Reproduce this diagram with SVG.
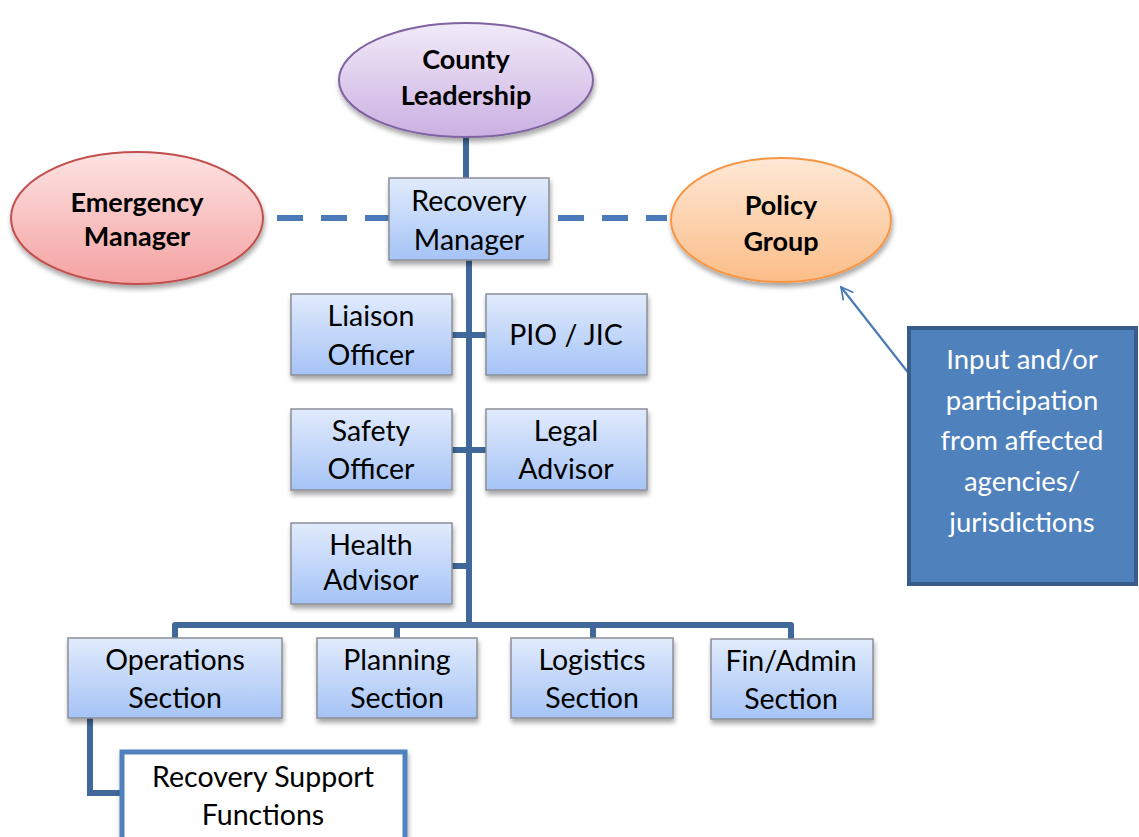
<svg xmlns="http://www.w3.org/2000/svg" width="1139" height="837" viewBox="0 0 1139 837">
<defs>
<linearGradient id="gBox" x1="0" y1="0" x2="0" y2="1"><stop offset="0" stop-color="#e1ebfc"/><stop offset="1" stop-color="#a5c3f6"/></linearGradient>
<linearGradient id="gPurple" x1="0" y1="0" x2="0" y2="1"><stop offset="0" stop-color="#f1eaf8"/><stop offset="1" stop-color="#cbb0e2"/></linearGradient>
<linearGradient id="gRed" x1="0" y1="0" x2="0" y2="1"><stop offset="0" stop-color="#fde3e3"/><stop offset="1" stop-color="#f5a2a2"/></linearGradient>
<linearGradient id="gOrange" x1="0" y1="0" x2="0" y2="1"><stop offset="0" stop-color="#fee8d6"/><stop offset="1" stop-color="#fbbd88"/></linearGradient>
<filter id="sh" x="-10%" y="-10%" width="125%" height="135%"><feGaussianBlur in="SourceAlpha" stdDeviation="2.5"/><feOffset dx="1" dy="4"/><feComponentTransfer><feFuncA type="linear" slope="0.35"/></feComponentTransfer><feMerge><feMergeNode/><feMergeNode in="SourceGraphic"/></feMerge></filter>
<marker id="arr" viewBox="0 0 20 20" refX="18" refY="10" markerWidth="16" markerHeight="16" markerUnits="userSpaceOnUse" orient="auto"><path d="M3,2 L18,10 L3,18" fill="none" stroke="#4a7ab8" stroke-width="2.2"/></marker>
<style>
.box{fill:url(#gBox);stroke:#8a8f96;stroke-width:1.5;filter:url(#sh)}
.t{font-family:Lato,"Open Sans",sans-serif;font-size:28.5px;fill:#000;text-anchor:middle}
.b{font-family:Lato,"Open Sans",sans-serif;font-weight:bold;font-size:27px;fill:#000;text-anchor:middle}
.w{font-family:Lato,"Open Sans",sans-serif;font-size:27.5px;fill:#fff;text-anchor:middle}
.ln{stroke:#41689b;stroke-width:6;fill:none}
.dl{stroke:#4a7ab8;stroke-width:6;fill:none;stroke-dasharray:26 18}
</style>
</defs>
<rect width="1139" height="837" fill="#fff"/>
<g id="connectors">
<line class="ln" x1="466" y1="137" x2="466" y2="178" stroke="#4a7ab8"/>
<line class="dl" x1="277" y1="218" x2="389" y2="218"/>
<line class="dl" x1="558" y1="218" x2="667" y2="218"/>
<line class="ln" x1="469" y1="260" x2="469" y2="627" stroke-width="7"/>
<line class="ln" x1="452" y1="335" x2="486" y2="335"/>
<line class="ln" x1="452" y1="450" x2="486" y2="450"/>
<line class="ln" x1="452" y1="566" x2="469" y2="566"/>
<path class="ln" d="M175,640 V625 H791 V640" stroke-linejoin="round"/>
<line class="ln" x1="397" y1="625" x2="397" y2="640"/>
<line class="ln" x1="593" y1="625" x2="593" y2="640"/>
<path class="ln" d="M90,718 V793 H122" stroke="#4a7ab8"/>
<line x1="910" y1="375" x2="841" y2="287" stroke="#4a7ab8" stroke-width="2.2" marker-end="url(#arr)"/>
</g>
<g id="county-leadership">
<ellipse cx="466" cy="80" rx="127" ry="57" fill="url(#gPurple)" stroke="#8064a2" stroke-width="2" filter="url(#sh)"/>
<text class="b" x="466" y="69">County</text>
<text class="b" x="466" y="105">Leadership</text>
</g>
<g id="emergency-manager">
<ellipse cx="137" cy="218" rx="126" ry="66" fill="url(#gRed)" stroke="#c0504d" stroke-width="2" filter="url(#sh)"/>
<text class="b" x="137" y="212">Emergency</text>
<text class="b" x="137" y="246" font-size="25">Manager</text>
</g>
<g id="policy-group">
<ellipse cx="781" cy="220" rx="110" ry="62" fill="url(#gOrange)" stroke="#f79646" stroke-width="2" filter="url(#sh)"/>
<text class="b" x="781" y="215">Policy</text>
<text class="b" x="781" y="251">Group</text>
</g>
<g id="recovery-manager">
<rect class="box" x="389" y="178" width="160" height="82"/>
<text class="t" x="469" y="211">Recovery</text>
<text class="t" x="469" y="250">Manager</text>
</g>
<g id="liaison-officer">
<rect class="box" x="291" y="294" width="161" height="81"/>
<text class="t" x="371" y="326">Liaison</text>
<text class="t" x="371" y="365">Officer</text>
</g>
<g id="pio-jic">
<rect class="box" x="486" y="294" width="161" height="81"/>
<text class="t" x="566" y="345">PIO / JIC</text>
</g>
<g id="safety-officer">
<rect class="box" x="291" y="409" width="161" height="81"/>
<text class="t" x="371" y="441">Safety</text>
<text class="t" x="371" y="479">Officer</text>
</g>
<g id="legal-advisor">
<rect class="box" x="486" y="409" width="161" height="81"/>
<text class="t" x="566" y="441">Legal</text>
<text class="t" x="566" y="479">Advisor</text>
</g>
<g id="health-advisor">
<rect class="box" x="291" y="523" width="161" height="81"/>
<text class="t" x="371" y="555">Health</text>
<text class="t" x="371" y="590">Advisor</text>
</g>
<g id="operations-section">
<rect class="box" x="68" y="638" width="214" height="80"/>
<text class="t" x="175" y="670">Operations</text>
<text class="t" x="175" y="708">Section</text>
</g>
<g id="planning-section">
<rect class="box" x="317" y="638" width="160" height="80"/>
<text class="t" x="397" y="670">Planning</text>
<text class="t" x="397" y="708">Section</text>
</g>
<g id="logistics-section">
<rect class="box" x="511" y="638" width="162" height="80"/>
<text class="t" x="592" y="670">Logistics</text>
<text class="t" x="592" y="708">Section</text>
</g>
<g id="finadmin-section">
<rect class="box" x="711" y="639" width="162" height="80"/>
<text class="t" x="791" y="671">Fin/Admin</text>
<text class="t" x="791" y="709">Section</text>
</g>
<g id="recovery-support-functions">
<rect x="122" y="752" width="283" height="95" fill="#fff" stroke="#4f81bd" stroke-width="5" filter="url(#sh)"/>
<text class="t" x="263" y="787">Recovery Support</text>
<text class="t" x="263" y="825">Functions</text>
</g>
<g id="input-box">
<rect x="909" y="328" width="227" height="256" fill="#4f81bd" stroke="#385d8a" stroke-width="4"/>
<text class="w" x="1022" y="369">Input and/or</text>
<text class="w" x="1022" y="410">participation</text>
<text class="w" x="1022" y="450">from affected</text>
<text class="w" x="1022" y="491">agencies/</text>
<text class="w" x="1022" y="532">jurisdictions</text>
</g>
</svg>
